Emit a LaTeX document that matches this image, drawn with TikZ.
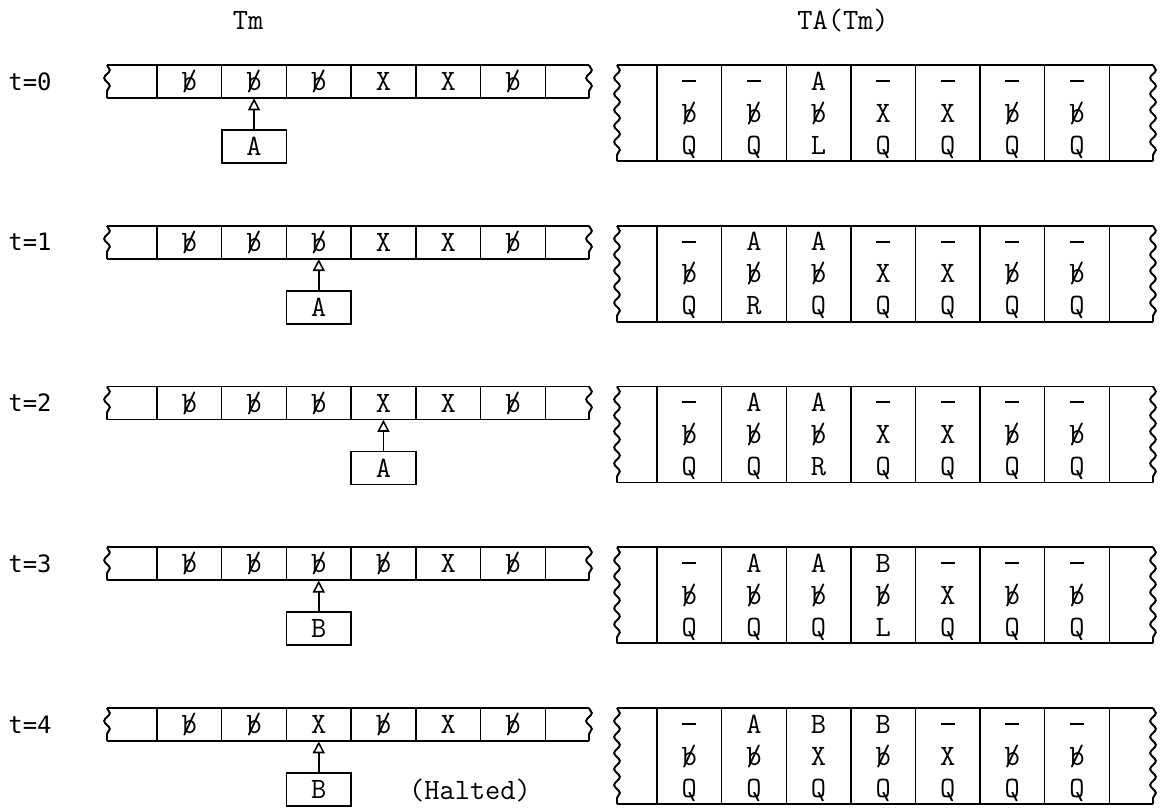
\documentclass[tikz,border=0pt]{standalone}
\usepackage{fontspec}
\usepackage{tikz}
\usetikzlibrary{arrows.meta,decorations.pathmorphing}
\newfontfamily\steplabelfont{DejaVu Sans Mono}
% blank symbol, a b struck through
\newcommand{\blk}{\ooalign{b\cr\hidewidth/\hidewidth\cr}}
\newcommand{\nohd}{\rule[0.28em]{0.48em}{1.5pt}}
\tikzset{
  symtext/.style={inner sep=0pt,text height=15pt,text depth=2pt,font=\fontsize{21}{24}\selectfont\ttfamily},
  cellnode/.style={symtext,minimum width=1.6175cm,minimum height=0.825cm},
  steplabel/.style={inner sep=0pt,font=\fontsize{17}{19}\selectfont\steplabelfont},
  tapeedge/.style={line width=1.4pt},
  divider/.style={line width=1pt},
  wavyedge/.style={line width=1.4pt,decorate,decoration={snake,segment length=0.4cm,amplitude=0.07cm}},
  headbox/.style={cellnode,draw,line width=1.2pt},
  headarrow/.style={-{Triangle[open,length=3mm,width=3mm]},line width=1.1pt}
}

\begin{document}
\begin{tikzpicture}[x=0.025cm,y=-0.025cm]
\useasboundingbox (0,0) rectangle (1165,809);
\node[symtext] (tmlabel) at (248,20) {Tm};
\node[symtext] (talabel) at (843,20) {TA(Tm)};
\foreach \r/\lt/\rt/\hp/\st in {%
0/{\blk,\blk,\blk,X,X,\blk}/{\nohd/\blk/Q,\nohd/\blk/Q,A/\blk/L,\nohd/X/Q,\nohd/X/Q,\nohd/\blk/Q,\nohd/\blk/Q}/2/A,%
1/{\blk,\blk,\blk,X,X,\blk}/{\nohd/\blk/Q,A/\blk/R,A/\blk/Q,\nohd/X/Q,\nohd/X/Q,\nohd/\blk/Q,\nohd/\blk/Q}/3/A,%
2/{\blk,\blk,\blk,X,X,\blk}/{\nohd/\blk/Q,A/\blk/Q,A/\blk/R,\nohd/X/Q,\nohd/X/Q,\nohd/\blk/Q,\nohd/\blk/Q}/4/A,%
3/{\blk,\blk,\blk,\blk,X,\blk}/{\nohd/\blk/Q,A/\blk/Q,A/\blk/Q,B/\blk/L,\nohd/X/Q,\nohd/\blk/Q,\nohd/\blk/Q}/3/B,%
4/{\blk,\blk,X,\blk,X,\blk}/{\nohd/\blk/Q,A/\blk/Q,B/X/Q,B/\blk/Q,\nohd/X/Q,\nohd/\blk/Q,\nohd/\blk/Q}/3/B%
}{
  \pgfmathsetmacro{\ty}{65+160.75*\r}
  \node[steplabel] (t\r) at (30,\ty+16.5) {t=\r};
  % machine tape
  \draw[tapeedge] (107,\ty) -- (589,\ty) (107,\ty+33) -- (589,\ty+33);
  \draw[wavyedge] (107,\ty) -- (107,\ty+33);
  \draw[wavyedge] (589,\ty) -- (589,\ty+33);
  \foreach \i in {0,...,6} \draw[divider] (157+64.7*\i,\ty) -- (157+64.7*\i,\ty+33);
  \foreach \s [count=\i] in \lt \node[cellnode] (L\r-\i) at (124.65+64.7*\i,\ty+16.5) {\s};
  \node[headbox] (H\r) at (124.65+64.7*\hp,\ty+81.5) {\st};
  \draw[headarrow] (H\r) -- (L\r-\hp.south);
  % simulating tape
  \draw[tapeedge] (617,\ty) -- (1153,\ty) (617,\ty+96) -- (1153,\ty+96);
  \draw[wavyedge] (617,\ty) -- (617,\ty+96);
  \draw[wavyedge] (1153,\ty) -- (1153,\ty+96);
  \foreach \j in {0,...,7} \draw[divider] (657+64.6*\j,\ty) -- (657+64.6*\j,\ty+96);
  \foreach \a/\b/\c [count=\j] in \rt {
    \node[symtext] (R\r-\j-a) at (624.7+64.6*\j,\ty+16) {\a};
    \node[symtext] (R\r-\j-b) at (624.7+64.6*\j,\ty+48) {\b};
    \node[symtext] (R\r-\j-c) at (624.7+64.6*\j,\ty+80) {\c};
  }
}
\node[symtext] (halt) at (470,790) {(Halted)};
\end{tikzpicture}
\end{document}
